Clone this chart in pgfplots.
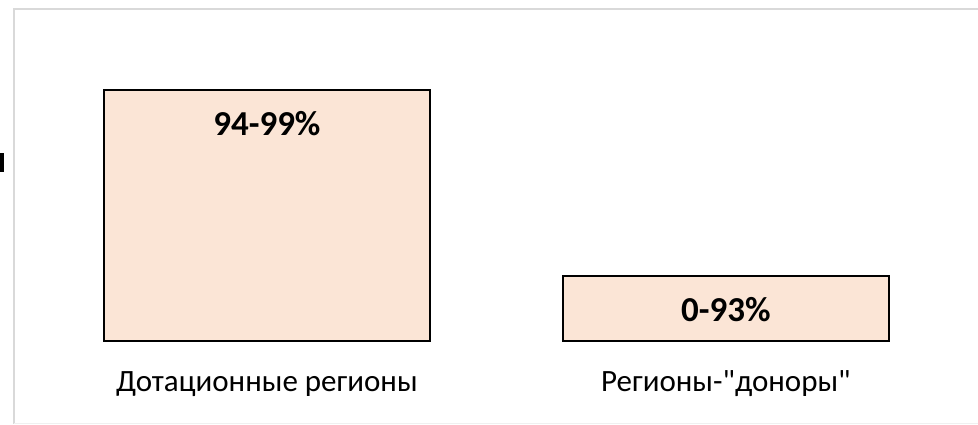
\documentclass[border=0pt]{standalone}
\usepackage{fontspec}
\setmainfont{Carlito}[Ligatures=TeXOff]
\usepackage{pgfplots}
\pgfplotsset{compat=1.18}
\definecolor{barfill}{HTML}{FBE5D6}
\definecolor{framegray}{HTML}{D9D9D9}
\pgfplotstableread{
x y label
0 100 94-99\%
1 25.8 0-93\%
}\bardata
\begin{document}
\begin{tikzpicture}[x=1pt,y=1pt]
\path[use as bounding box] (0,0) rectangle (978,425);
\draw[framegray, line width=1.5pt] (14,1) -- (14,416) -- (1000,416);
\draw[black!6, line width=1pt] (14,1) -- (1000,1);
\fill[black] (0,253) rectangle (4,272);
\begin{axis}[
  at={(266.9pt,84.4pt)}, anchor=origin,
  scale only axis,
  x=458.9pt, y=2.505pt,
  xmin=-0.62, xmax=1.62, ymin=0, ymax=125,
  axis x line=bottom, axis y line=none,
  axis line style={draw=none},
  ytick=\empty,
  xtick={0,1},
  xticklabels={Дотационные регионы, Регионы-"доноры"},
  major tick length=0pt,
  xtick style={draw=none},
  xticklabel style={anchor=base, yshift=-51.4pt, font=\fontsize{31}{36}\selectfont, inner sep=0pt},
  ybar, bar width=325.4pt,
  clip=false,
  nodes near coords,
  point meta=explicit symbolic,
  every node near coord/.append style={anchor=base, yshift=-45.5pt, font=\fontsize{35}{40}\selectfont\bfseries, text=black},
]
\addplot[fill=barfill, draw=black, line width=2pt] table[x=x, y=y, meta=label] {\bardata};
\end{axis}
\end{tikzpicture}
\end{document}
